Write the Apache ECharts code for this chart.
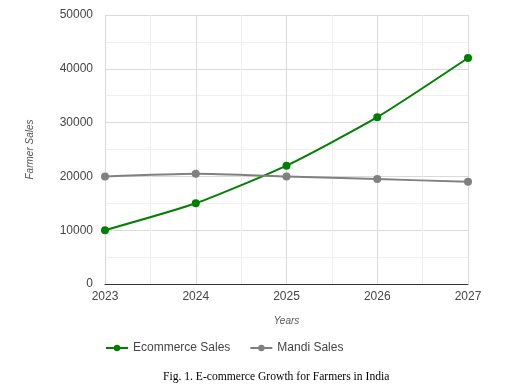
<!DOCTYPE html>
<html><head><meta charset="utf-8">
<script src="https://cdn.jsdelivr.net/npm/echarts@6/dist/echarts.min.js"></script>
<style>html,body{margin:0;padding:0;background:#fff}#c{width:507px;height:388px}</style>
</head><body><div id="c"></div>
<script>
const years = [2023, 2024, 2025, 2026, 2027];
const ecommerceSales = [10000, 15000, 22000, 31000, 42000];
const mandiSales = [20000, 20500, 20000, 19500, 19000];
const yTicks = [0, 10000, 20000, 30000, 40000, 50000];

const chart = echarts.init(document.getElementById('c'));
const font = 'Arial, "Liberation Sans", sans-serif';
chart.setOption({
  animation: false,
  grid: {left: 105, right: 39, top: 15, bottom: 104},
  xAxis: {
    type: 'value', min: years[0], max: years[years.length - 1], interval: 1,
    name: 'Years', nameLocation: 'middle', nameGap: 32,
    nameTextStyle: {fontStyle: 'italic', fontSize: 10, color: '#555', fontFamily: font},
    axisLine: {show: true, lineStyle: {color: '#333', width: 1}},
    axisTick: {show: false},
    axisLabel: {color: '#444', fontSize: 12, fontFamily: font, margin: 7, formatter: v => String(v)},
    splitLine: {show: true, lineStyle: {color: '#dadada'}},
    minorTick: {show: false, splitNumber: 2},
    minorSplitLine: {show: true, lineStyle: {color: '#efefef'}}
  },
  yAxis: {
    type: 'value', min: yTicks[0], max: yTicks[yTicks.length - 1], interval: 10000,
    name: 'Farmer Sales', nameLocation: 'middle', nameGap: 70, nameRotate: 90,
    nameTextStyle: {fontStyle: 'italic', fontSize: 10, color: '#555', fontFamily: font},
    axisLine: {show: false}, axisTick: {show: false},
    axisLabel: {color: '#444', fontSize: 12, fontFamily: font, margin: 12, formatter: v => String(v)},
    splitLine: {show: true, lineStyle: {color: '#dadada'}},
    minorTick: {show: false, splitNumber: 2},
    minorSplitLine: {show: true, lineStyle: {color: '#efefef'}}
  },
  legend: {
    left: 105, top: 342, padding: 0, itemWidth: 22, itemHeight: 8, itemGap: 19,
    textStyle: {color: '#444', fontSize: 12, fontFamily: font},
    data: ['Ecommerce Sales', 'Mandi Sales']
  },
  series: [
    {name: 'Ecommerce Sales', type: 'line', smooth: 0.2,
     data: years.map((y, i) => [y, ecommerceSales[i]]),
     symbol: 'circle', symbolSize: 8,
     itemStyle: {color: '#008000'}, lineStyle: {color: '#008000', width: 2}},
    {name: 'Mandi Sales', type: 'line', smooth: 0.2,
     data: years.map((y, i) => [y, mandiSales[i]]),
     symbol: 'circle', symbolSize: 8,
     itemStyle: {color: '#808080'}, lineStyle: {color: '#808080', width: 2}}
  ],
  graphic: [{
    type: 'text', left: 163, top: 371,
    style: {text: 'Fig. 1. E-commerce Growth for Farmers in India', fill: '#000',
            font: '11.6px "Liberation Serif", "Times New Roman", serif'}
  }]
});
</script></body></html>
